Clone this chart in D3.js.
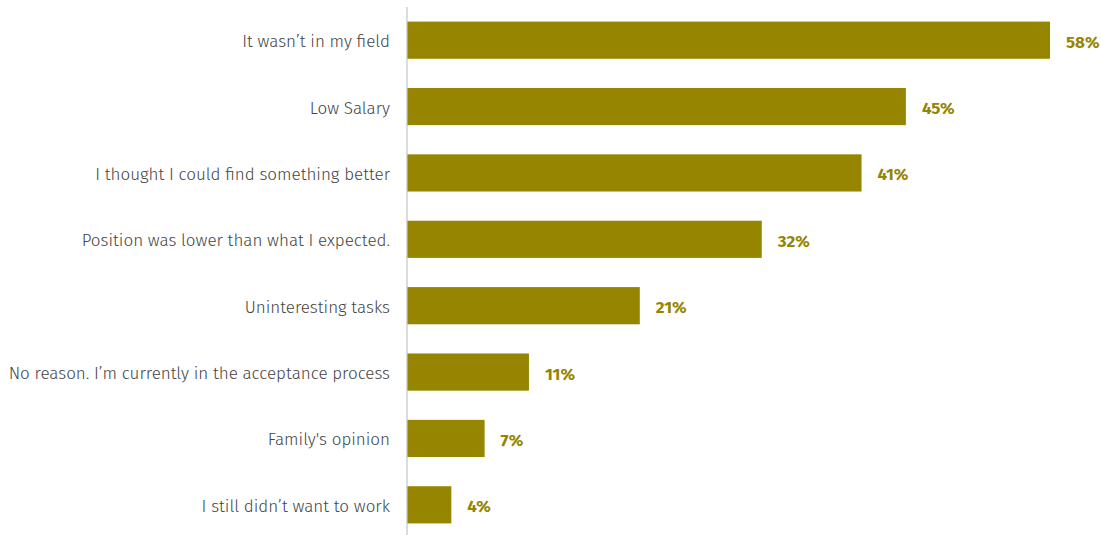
<!DOCTYPE html>
<html>
<head>
<meta charset="utf-8">
<script src="https://cdn.jsdelivr.net/npm/d3@7"></script>
<style>
  html, body { margin: 0; padding: 0; background: #fff; }
  svg { display: block; }
</style>
</head>
<body>
<svg id="chart" width="1101" height="535"></svg>
<script>
// Reasons for declining a job offer (share of respondents, %)
const categories = [
  "It wasn\u2019t in my field",
  "Low Salary",
  "I thought I could find something better",
  "Position was lower than what I expected.",
  "Uninteresting tasks",
  "No reason. I\u2019m currently in the acceptance process",
  "Family's opinion",
  "I still didn\u2019t want to work"
];
const values = [58, 45, 41, 32, 21, 11, 7, 4];
const valueLabels = ["58%", "45%", "41%", "32%", "21%", "11%", "7%", "4%"];

const barColor = "#968500";
const svg = d3.select("#chart");
const plotLeft = 407, plotRight = 1050, plotTop = 7, plotBottom = 538;

const x = d3.scaleLinear().domain([0, d3.max(values)]).range([plotLeft, plotRight]);
const y = d3.scaleBand().domain(categories).range([plotTop, plotBottom])
  .paddingInner(0.44).paddingOuter(0.22);

const data = categories.map((c, i) => ({ c, v: values[i], label: valueLabels[i] }));

// bars
svg.append("g").selectAll("rect").data(data).join("rect")
  .attr("x", x(0))
  .attr("y", d => y(d.c))
  .attr("width", d => x(d.v) - x(0))
  .attr("height", y.bandwidth())
  .attr("fill", barColor);

// value labels
svg.append("g").selectAll("text").data(data).join("text")
  .attr("x", d => x(d.v) + 16)
  .attr("y", d => y(d.c) + y.bandwidth() / 2 + 1.5)
  .attr("dy", "0.35em")
  .attr("fill", barColor)
  .style("font-family", "'Fira Sans', Roboto, 'Open Sans', sans-serif")
  .style("font-weight", 700)
  .style("font-size", "17px")
  .text(d => d.label);

// category axis
const yAxis = d3.axisLeft(y).tickSize(0).tickPadding(17);
const ga = svg.append("g").attr("transform", `translate(${plotLeft},0)`).call(yAxis);
ga.select(".domain").attr("stroke", "#c4c4c4").attr("stroke-width", 1.2)
  .attr("d", `M0,${plotTop}V535`);
ga.selectAll("text")
  .attr("fill", "#444")
  .attr("y", 1.5)
  .style("font-family", "'Fira Sans', Roboto, 'Open Sans', sans-serif")
  .style("font-weight", 300)
  .style("font-size", "17px");
</script>
</body>
</html>
